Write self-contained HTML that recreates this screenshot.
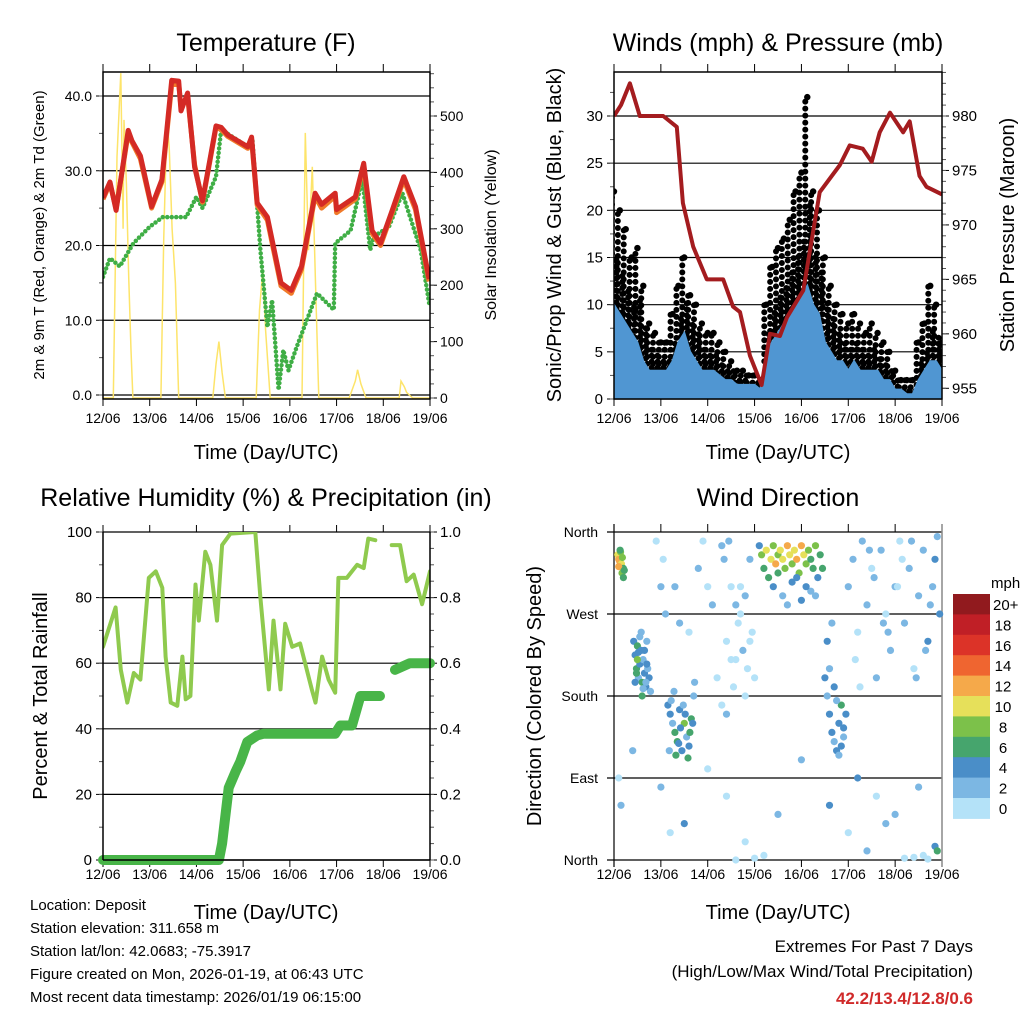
<!DOCTYPE html>
<html><head><meta charset="utf-8"><style>
html,body{margin:0;padding:0;background:#fff;}
svg{display:block;font-family:"Liberation Sans",Arial,sans-serif;}
</style></head><body>
<svg id="chart" width="1024" height="1024" viewBox="0 0 1024 1024" xmlns="http://www.w3.org/2000/svg">
<rect width="1024" height="1024" fill="#fff"/>
<text x="266" y="51" font-size="25" text-anchor="middle">Temperature (F)</text>
<text x="778" y="51" font-size="25" text-anchor="middle">Winds (mph) &amp; Pressure (mb)</text>
<text x="266" y="506" font-size="25" text-anchor="middle">Relative Humidity (%) &amp; Precipitation (in)</text>
<text x="778" y="506" font-size="25" text-anchor="middle">Wind Direction</text>

<text transform="translate(44,235) rotate(-90)" font-size="15" text-anchor="middle">2m &amp; 9m T (Red, Orange) &amp; 2m Td (Green)</text>
<text transform="translate(496,235) rotate(-90)" font-size="16" text-anchor="middle">Solar Insolation (Yellow)</text>
<text transform="translate(561,235) rotate(-90)" font-size="20" text-anchor="middle">Sonic/Prop Wind &amp; Gust (Blue, Black)</text>
<text transform="translate(1014,235) rotate(-90)" font-size="20" text-anchor="middle">Station Pressure (Maroon)</text>
<text transform="translate(47,696) rotate(-90)" font-size="20" text-anchor="middle">Percent &amp; Total Rainfall</text>
<text transform="translate(541,696) rotate(-90)" font-size="20" text-anchor="middle">Direction (Colored By Speed)</text>

<text x="266" y="459" font-size="20" text-anchor="middle">Time (Day/UTC)</text>
<text x="778" y="459" font-size="20" text-anchor="middle">Time (Day/UTC)</text>
<text x="266" y="919" font-size="20" text-anchor="middle">Time (Day/UTC)</text>
<text x="778" y="919" font-size="20" text-anchor="middle">Time (Day/UTC)</text>

<g font-size="15">
<text x="30" y="910">Location: Deposit</text>
<text x="30" y="933">Station elevation: 311.658 m</text>
<text x="30" y="956">Station lat/lon: 42.0683; -75.3917</text>
<text x="30" y="979">Figure created on Mon, 2026-01-19, at 06:43 UTC</text>
<text x="30" y="1002">Most recent data timestamp: 2026/01/19 06:15:00</text>
</g>
<g font-size="17" text-anchor="end">
<text x="973" y="952">Extremes For Past 7 Days</text>
<text x="973" y="977">(High/Low/Max Wind/Total Precipitation)</text>
<text x="973" y="1004" fill="#d02a2a" font-weight="bold">42.2/13.4/12.8/0.6</text>
</g>
<g id="layer"></g>
</svg>
<script>
// ---------- data ----------
const dayLabels = ["12/06","13/06","14/06","15/06","16/06","17/06","18/06","19/06"];
const tempTicks = [0,10,20,30,40];
const solarTicks = [0,100,200,300,400,500];
const windTicks = [0,5,10,15,20,25,30];
const presTicks = [955,960,965,970,975,980];
const rhTicks = [0,20,40,60,80,100];
const rainTicks = [0,0.2,0.4,0.6,0.8,1.0];
const dirTicks = [0,90,180,270,360];
const dirNames = ["North","East","South","West","North"];

const redDay = [0,0.15,0.28,0.54,0.62,0.8,1.04,1.26,1.47,1.62,1.67,1.81,1.96,2.13,2.42,2.53,2.67,3.1,3.18,3.3,3.52,3.81,4.03,4.25,4.54,4.68,4.97,5.0,5.4,5.58,5.76,5.94,6.19,6.44,6.69,6.98];
const redT = [26.4,28.5,24.7,35.4,34,32,25.2,28.8,42.1,42,38,40.4,30.5,26,36,35.8,34.8,33.2,34.5,25.7,23.8,15,14,17.2,27,25.5,27,24.8,26.5,31,22,20.3,24.7,29.2,25.2,15.5];
const orangeT = [26.2,28.3,24.9,35.0,33.8,31.6,25.0,28.5,41.5,41.6,38.5,40.0,30.8,25.8,35.8,35.5,34.6,33.0,34.2,25.4,23.4,14.6,13.6,16.8,26.6,25.0,26.6,24.4,26.2,30.6,21.6,20.0,24.4,28.8,24.8,15.2];
const dewDay = [0,0.15,0.36,0.65,1.0,1.28,1.78,2.0,2.13,2.42,2.53,3.1,3.2,3.37,3.52,3.62,3.76,3.86,3.97,4.15,4.58,4.94,4.97,5.3,5.55,5.72,5.8,6.12,6.41,6.8,6.98];
const dewT = [15.8,18.3,17.2,20.3,22.5,23.8,23.8,26.5,25,29.2,35.5,33.2,34,19.4,9.1,12.7,0.7,6,3.3,6.5,13.6,11.4,20.3,22,29,19.4,21.2,22.5,27,19.4,12.3];
const solDay = [0,0.22,0.3,0.38,0.43,0.45,0.5,0.55,0.6,0.64,1.24,1.3,1.37,1.42,1.48,1.55,1.62,2.35,2.42,2.48,2.55,2.62,3.28,3.35,3.42,3.48,3.58,4.26,4.33,4.4,4.48,4.55,4.62,5.27,5.4,5.45,5.52,5.63,6.34,6.38,6.45,6.5,6.63,7];
const solW = [0,0,428,576,300,493,380,215,85,0,0,280,499,440,300,204,0,0,60,100,45,0,0,156,227,120,0,0,470,262,410,204,0,0,30,50,25,0,0,30,20,10,0,0];

const windDay = [0,0.125,0.25,0.375,0.5,0.625,0.75,0.875,1,1.125,1.25,1.375,1.5,1.625,1.75,1.875,2,2.125,2.25,2.375,2.5,2.625,2.75,2.875,3,3.125,3.25,3.375,3.5,3.625,3.75,3.875,4,4.125,4.25,4.375,4.5,4.625,4.75,4.875,5,5.125,5.25,5.375,5.5,5.625,5.75,5.875,6,6.125,6.25,6.375,6.5,6.625,6.75,6.875,7];
const sonic = [10,9,8,7,6,4,3,3,3,3,4,6,7,5,4,3,3,3,2.5,2,2,1.5,1.5,1.5,1.5,1,5,6,7,8,9,10,11,12,10,9,6,5,4,4,3,4,3,3,3,3,2,2,1,1,0.5,0.5,2,3,4,4,3];
const gustHi = [22,20,18,15,16,12,8,7,6,6,9,12,15,11,10,8,7,7,6,5,4,3,3,2.5,2.5,2,10,14,16,17,19,22,24,32,22,20,15,12,10,9,8,9,8,7,8,7,6,5,3,2,2,2,6,8,12,10,6];
const gustLo = [8,7,6,5,5,4,3,3,3,3,3,5,6,5,4,3,3,3,2,2,2,1,1,1,1,1,4,5,6,7,8,9,10,10,9,8,6,5,4,3,3,3,3,3,3,2,2,2,1,0.5,0.5,0.5,1.5,2,3,3,2];
const presDay = [0,0.15,0.34,0.55,1.05,1.34,1.47,1.69,1.98,2.33,2.54,2.69,2.9,3.15,3.33,3.54,3.69,4.04,4.39,4.82,5.03,5.31,5.5,5.67,5.89,6.17,6.31,6.52,6.67,7];
const presMb = [980,981,983,980,980,979,972,968,965,965,962.5,962,958,955.3,960,959.8,961.5,964,973,975.5,977.3,977,975.8,978.5,980.3,978.5,979.5,974.5,973.5,972.8];

const rhDay = [0,0.27,0.38,0.52,0.66,0.8,0.98,1.13,1.27,1.34,1.45,1.59,1.7,1.77,1.87,1.98,2.05,2.19,2.3,2.44,2.55,2.73,3.26,3.37,3.55,3.65,3.8,3.9,4.05,4.22,4.47,4.55,4.69,4.83,4.97,5.04,5.22,5.44,5.58,5.68,5.83,6.0,6.18,6.36,6.5,6.65,6.83,7];
const rhPct = [65,77,58,48,57,55,86,88,83,62,48,47,62,49,50,84,73,94,90,73,96,99.5,100,80,52,73,52,72,65,66,52,48,62,55,51,86,86,90,89,98,97.5,null,96,96,85,87,78,88];
const rainDay = [0,2.48,2.55,2.69,2.84,2.94,3.09,3.3,3.44,4.97,5.08,5.33,5.51,5.93,6.05,6.25,6.57,7];
const rainIn = [0,0,0.05,0.22,0.27,0.3,0.36,0.38,0.385,0.385,0.41,0.41,0.5,0.5,null,0.58,0.6,0.6];

const dirDay = [0.08,0.1,0.12,0.14,0.16,0.18,0.2,0.1,0.13,0.17,0.22,0.2,
0.42,0.45,0.48,0.5,0.52,0.55,0.58,0.6,0.62,0.65,0.68,0.7,0.72,0.75,0.78,0.45,0.5,0.55,0.6,0.65,0.7,0.48,0.58,0.68,0.52,0.62,
1.15,1.2,1.25,1.3,1.35,1.4,1.45,1.5,1.55,1.6,1.65,1.7,1.22,1.32,1.42,1.52,1.62,1.28,1.38,1.48,1.58,1.68,1.18,1.72,
3.1,3.15,3.2,3.25,3.3,3.35,3.4,3.45,3.5,3.55,3.6,3.65,3.7,3.75,3.8,3.85,3.9,3.95,4.0,4.05,4.1,4.15,4.2,4.25,4.3,4.35,4.4,4.45,3.4,3.6,3.8,4.0,4.2,3.5,3.7,3.9,4.1,4.3,
4.5,4.55,4.6,4.65,4.7,4.75,4.8,4.85,4.9,4.95,4.6,4.7,4.8,4.9,4.55,4.75,4.85,4.65,
0.9,1.0,1.05,1.1,1.3,1.4,1.6,1.8,1.9,2.0,2.1,2.2,2.3,2.35,2.4,2.45,2.5,2.55,2.6,2.65,2.7,2.75,2.8,2.85,2.9,2.95,3.0,2.3,2.5,2.7,2.9,2.4,2.6,2.8,5.0,5.1,5.2,5.3,5.4,5.5,5.6,5.7,5.8,5.9,6.0,6.1,6.2,6.3,6.4,6.5,6.6,6.7,6.8,6.9,6.95,5.25,5.55,5.85,6.15,6.45,6.75,5.15,5.45,5.75,6.05,6.35,6.65,6.85,
0.1,0.15,1.0,1.5,2.0,2.4,2.8,3.2,3.5,4.0,4.6,5.0,5.2,5.4,5.6,6.0,6.2,6.4,6.6,6.85,6.9,0.4,1.2,2.6,3.0,5.8,6.5,6.7];
const dirDeg = [335,330,328,338,325,332,320,322,340,315,318,310,
240,225,210,235,200,215,230,195,220,205,190,240,210,200,185,195,220,245,180,230,215,205,250,195,228,188,
170,160,150,140,130,165,120,150,135,125,155,180,175,115,145,160,140,185,128,170,112,150,120,195,
345,335,320,340,310,330,345,325,335,340,330,320,345,335,325,340,330,315,345,335,325,340,330,320,345,310,335,320,300,290,305,285,295,315,280,310,300,290,
200,180,160,140,130,120,150,170,135,160,210,190,115,145,240,175,125,260,
350,300,330,270,300,260,250,320,350,300,280,200,170,330,240,350,220,190,280,260,300,230,180,210,330,250,200,345,300,270,240,160,220,290,300,330,250,350,280,320,200,340,270,230,300,350,260,320,210,290,340,240,300,355,270,190,310,250,330,200,280,220,340,260,300,350,230,330,
90,60,80,40,100,70,20,5,50,110,60,30,90,10,70,50,2,3,5,15,10,120,30,0,2,40,80,1];
const dirSpd = [11,13,12,9,10,8,7,12,7,9,6,6,
5,4,6,7,3,5,4,6,3,5,4,2,3,4,2,5,8,3,6,4,5,7,3,2,4,3,
4,5,3,6,7,4,5,8,3,4,6,2,3,7,5,4,6,2,5,3,7,4,2,3,
5,8,6,10,7,11,9,12,8,10,11,9,12,10,8,11,13,9,12,10,8,9,7,6,8,5,6,7,4,3,5,4,3,6,3,4,5,3,
4,3,5,4,3,4,5,6,3,4,3,4,3,5,4,2,4,3,
1,2,1,2,3,2,1,2,1,1,2,1,0,2,1,3,1,0,2,1,1,2,0,1,3,1,0,2,1,0,1,2,1,2,2,3,1,2,3,1,2,3,1,2,3,1,2,3,1,2,3,4,2,3,4,1,3,2,1,2,3,1,2,3,1,2,3,4,
1,3,2,4,0,1,0,1,3,2,4,1,4,2,1,3,0,0,1,4,6,2,1,0,0,2,2,0];
const speedLabels = ["0","2","4","6","8","10","12","14","16","18","20+"];
const speedColors = ["#b4e2f8","#7cb7e3","#4a8ec8","#46a56d","#7cc14a","#e6e05a","#f5a94a","#ef6530","#dc3328","#c01f26","#911a1e"];

// ---------- helpers ----------
const NS="http://www.w3.org/2000/svg";
const layer=document.getElementById('layer');
function mk(tag,attrs,parent){const e=document.createElementNS(NS,tag);for(const k in attrs)e.setAttribute(k,attrs[k]);(parent||layer).appendChild(e);return e;}
function lin(d0,d1,r0,r1){return v=>r0+(v-d0)*(r1-r0)/(d1-d0);}
function pathOf(xs,ys,fx,fy){let d="",pen=false;for(let i=0;i<xs.length;i++){if(ys[i]===null){pen=false;continue;}d+=(pen?"L":"M")+fx(xs[i]).toFixed(1)+","+fy(ys[i]).toFixed(1);pen=true;}return d;}

const P1={l:103,r:430,t:72,b:399}, P2={l:614,r:942,t:72,b:399}, P3={l:103,r:430,t:532,b:860}, P4={l:614,r:942,t:532,b:860};
const x1=lin(0,7,P1.l,P1.r), x2=lin(0,7,P2.l,P2.r), x3=lin(0,7,P3.l,P3.r), x4=lin(0,7,P4.l,P4.r);
const yT=lin(0,40,395,96), yS=lin(0,500,398,116);
const yW=lin(0,30,399,116), yP=lin(955,980,388.3,116);
const yR=lin(0,100,860,532), yRain=lin(0,1,860,532);
const yD=lin(0,360,860,532);

function clip(id,P){const c=mk('clipPath',{id:id});mk('rect',{x:P.l,y:P.t,width:P.r-P.l,height:P.b-P.t},c);}
function xAxis(P,fx,name,labelY,topTick){
  const g=mk('g',{});
  
  
  dayLabels.forEach((lab,i)=>{const x=fx(i);
    mk('line',{x1:x,x2:x,y1:P.b,y2:P.b+7,stroke:'#000','stroke-width':1},g);
    mk('line',{x1:x,x2:x,y1:topTick,y2:P.t,stroke:'#000','stroke-width':1},g);
    const t=mk('text',{x:x,y:labelY,'font-size':14,'text-anchor':'middle'},g);t.textContent=lab;});
}
function yAxis(ticks,fy,P,side,fmt,name,fs,grid,minor){
  const g=mk('g',{});
  
  
  ticks.forEach(v=>{const y=fy(v);
    if(grid) mk('line',{x1:P.l,x2:P.r,y1:y,y2:y,stroke:'#000','stroke-width':1.2},g);
    if(side==='L'){mk('line',{x1:P.l-7,x2:P.l,y1:y,y2:y,stroke:'#000'},g);
      const t=mk('text',{x:P.l-11,y:y+5,'font-size':fs,'text-anchor':'end'},g);t.textContent=fmt(v);}
    else{mk('line',{x1:P.r,x2:P.r+7,y1:y,y2:y,stroke:'#000'},g);
      const t=mk('text',{x:P.r+10,y:y+5,'font-size':fs},g);t.textContent=fmt(v);}
  });
  if(minor){for(let k=0;k<minor.length;k++){const y=fy(minor[k]);if(y<P.t||y>P.b)continue;
    if(side==='L')mk('line',{x1:P.l-4,x2:P.l,y1:y,y2:y,stroke:'#555'},g);else mk('line',{x1:P.r,x2:P.r+4,y1:y,y2:y,stroke:'#555'},g);}}
}
function frame(P,name){const r=mk('rect',{x:P.l,y:P.t,width:P.r-P.l,height:P.b-P.t,fill:'none',stroke:'#000','stroke-width':1.5});
  
  }
function range(a,b,s){const o=[];for(let v=a;v<=b+1e-9;v+=s)o.push(+v.toFixed(3));return o;}

clip('c1',P1);clip('c2',P2);clip('c3',P3);clip('c4',P4);

// ---------- panel 1: temperature ----------
yAxis(tempTicks,yT,P1,'L',v=>v.toFixed(1),'temp-y-axis',14,true,range(0,40,5));
yAxis(solarTicks,yS,P1,'R',v=>String(v),'solar-y-axis',14,false,range(0,575,25));
xAxis(P1,x1,'temp-x-axis',423,64);
const g1=mk('g',{'clip-path':'url(#c1)'});
let e;
e=mk('path',{d:pathOf(solDay,solW,x1,yS),fill:'none',stroke:'#fde46a','stroke-width':1.5},g1);


e=mk('path',{d:pathOf(dewDay,dewT,x1,yT),fill:'none',stroke:'#3fae45','stroke-width':4.5,'stroke-dasharray':'0 4.5','stroke-linecap':'round'},g1);


e=mk('path',{d:pathOf(redDay,orangeT,x1,yT),fill:'none',stroke:'#f07a2a','stroke-width':5,'stroke-linejoin':'round'},g1);


e=mk('path',{d:pathOf(redDay,redT,x1,yT),fill:'none',stroke:'#d42a25','stroke-width':5,'stroke-linejoin':'round'},g1);


frame(P1,'temp-plot-frame');

// ---------- panel 2: winds & pressure ----------
yAxis(windTicks,yW,P2,'L',v=>String(v),'wind-y-axis',15,true,range(0,35,2.5));
yAxis(presTicks,yP,P2,'R',v=>String(v),'pressure-y-axis',15,false,range(954,984,1));
xAxis(P2,x2,'winds-x-axis',423,64);
const g2=mk('g',{'clip-path':'url(#c2)'});
for(let i=0;i<windDay.length;i++){
  const x=x2(windDay[i]);
  const b=mk('line',{x1:x-2,x2:x-2,y1:yW(gustLo[i]),y2:yW(gustHi[i]),stroke:'#000','stroke-width':6,'stroke-linecap':'round','stroke-dasharray':'0 7'},g2);
  
  
  const b2=mk('line',{x1:x+2.5,x2:x+2.5,y1:yW(gustLo[i])-3,y2:yW((gustHi[i]+gustLo[i])/2),stroke:'#000','stroke-width':6,'stroke-linecap':'round','stroke-dasharray':'0 6'},g2);
  
  
  const c=mk('circle',{cx:x,cy:yW(gustHi[i]),r:3.2,fill:'#000'},g2);
  
  
}
let ap="M"+x2(0)+","+yW(0)+pathOf(windDay,sonic,x2,yW).replace(/^M/,"L")+"L"+x2(7)+","+yW(0)+"Z";
e=mk('path',{d:ap,fill:'#5096d2',stroke:'#5096d2','stroke-width':2},g2);


e=mk('path',{d:pathOf(presDay,presMb,x2,yP),fill:'none',stroke:'#a41c1f','stroke-width':4,'stroke-linejoin':'round'},g2);


frame(P2,'winds-plot-frame');

// ---------- panel 3: RH & precip ----------
yAxis(rhTicks,yR,P3,'L',v=>String(v),'rh-y-axis',15,true,range(0,100,10));
yAxis(rainTicks,yRain,P3,'R',v=>v.toFixed(1),'rain-y-axis',15,false,range(0,1,0.05));
xAxis(P3,x3,'rh-x-axis',879,525);
const g3=mk('g',{'clip-path':'url(#c3)'});
e=mk('path',{d:pathOf(rhDay,rhPct,x3,yR),fill:'none',stroke:'#8fca4e','stroke-width':4,'stroke-linejoin':'round','stroke-linecap':'round'},g3);


e=mk('path',{d:pathOf(rainDay,rainIn,x3,yRain),fill:'none',stroke:'#48b548','stroke-width':10,'stroke-linejoin':'round','stroke-linecap':'round'},layer);


mk('line',{x1:P3.l,x2:P3.l,y1:P3.t,y2:P3.b,stroke:'#000','stroke-width':1.5});
mk('line',{x1:P3.r,x2:P3.r,y1:P3.t,y2:P3.b,stroke:'#000','stroke-width':1.5});
mk('line',{x1:P3.l,x2:P3.r,y1:P3.b,y2:P3.b,stroke:'#000','stroke-width':1.5});

// ---------- panel 4: wind direction ----------
const g4y=mk('g',{});


dirTicks.forEach((v,i)=>{const y=yD(v);
  mk('line',{x1:P4.l-7,x2:P4.r,y1:y,y2:y,stroke:'#000','stroke-width':1.2},g4y);
  const t=mk('text',{x:P4.l-16,y:y+5,'font-size':14,'text-anchor':'end'},g4y);t.textContent=dirNames[i];});
xAxis(P4,x4,'dir-x-axis',879,524);
mk('line',{x1:P4.l,x2:P4.l,y1:524,y2:P4.b+7,stroke:'#000','stroke-width':1.2});
mk('line',{x1:P4.r,x2:P4.r,y1:524,y2:P4.b+7,stroke:'#888','stroke-width':1.5});
const g4=mk('g',{});
for(let i=0;i<dirDay.length;i++){
  const bin=Math.min(10,Math.floor(dirSpd[i]/2));
  const c=mk('circle',{cx:x4(dirDay[i]).toFixed(1),cy:yD(dirDeg[i]).toFixed(1),r:3.6,fill:speedColors[bin]},g4);
  
  
}
// colorbar
const cb=mk('g',{});


const cbT=594, cbH=20.4;
let mt=mk('text',{x:991,y:588,'font-size':15},cb);mt.textContent='mph';
for(let k=0;k<speedLabels.length;k++){
  const idx=speedLabels.length-1-k;
  const r=mk('rect',{x:953,y:cbT+k*cbH,width:37,height:cbH+0.5,fill:speedColors[idx]},cb);
  
  
  const t=mk('text',{x:idx===10?993:1003,y:cbT+k*cbH+16,'font-size':15,'text-anchor':idx===10?'start':'middle'},cb);t.textContent=speedLabels[idx];
}
</script>
</body></html>
